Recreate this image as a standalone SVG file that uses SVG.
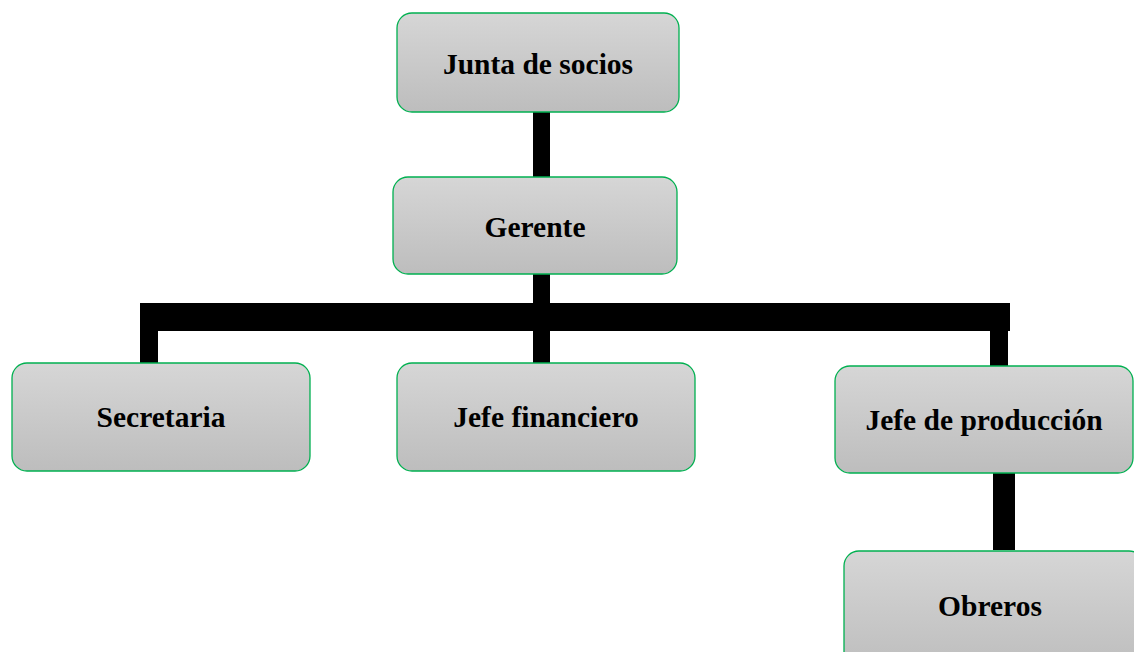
<svg xmlns="http://www.w3.org/2000/svg" width="1134" height="652" viewBox="0 0 1134 652">
<defs>
<linearGradient id="g" x1="0" y1="0" x2="0" y2="1">
<stop offset="0" stop-color="#d6d6d6"/>
<stop offset="1" stop-color="#bdbdbd"/>
</linearGradient>
<style>
.box{fill:url(#g);stroke:#00b050;stroke-width:1.3}
.t{font-family:"Liberation Serif","Times New Roman",serif;font-weight:bold;font-size:29.5px;fill:#000;text-anchor:middle;dominant-baseline:central}
.c{fill:#000}
</style>
</defs>
<rect width="1134" height="652" fill="#fff"/>
<g id="connectors">
<rect class="c" x="533" y="112" width="17" height="66"/>
<rect class="c" x="533" y="272" width="17" height="32"/>
<rect class="c" x="140" y="303" width="870" height="28"/>
<rect class="c" x="140" y="330" width="18" height="35"/>
<rect class="c" x="533" y="330" width="17" height="35"/>
<rect class="c" x="990" y="330" width="18" height="36"/>
<rect class="c" x="993" y="472" width="22" height="78"/>
</g>
<g id="junta">
<rect class="box" x="397" y="13" width="282" height="99" rx="15"/>
<text class="t" x="538" y="64">Junta de socios</text>
</g>
<g id="gerente">
<rect class="box" x="393" y="177" width="284" height="97" rx="15"/>
<text class="t" x="535" y="227">Gerente</text>
</g>
<g id="secretaria">
<rect class="box" x="12" y="363" width="298" height="108" rx="15"/>
<text class="t" x="161" y="417">Secretaria</text>
</g>
<g id="financiero">
<rect class="box" x="397" y="363" width="298" height="108" rx="15"/>
<text class="t" x="546" y="417">Jefe financiero</text>
</g>
<g id="produccion">
<rect class="box" x="835" y="366" width="298" height="107" rx="15"/>
<text class="t" x="984" y="420">Jefe de producción</text>
</g>
<g id="obreros">
<rect class="box" x="844" y="551" width="300" height="120" rx="15"/>
<text class="t" x="990" y="606">Obreros</text>
</g>
</svg>
